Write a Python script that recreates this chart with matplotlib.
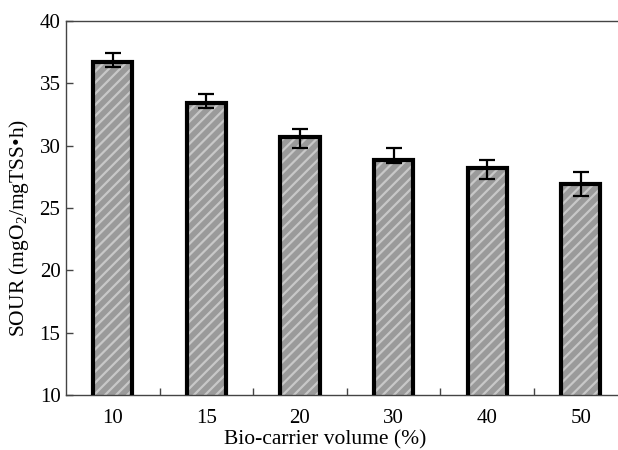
import matplotlib
matplotlib.use("Agg")
import matplotlib.pyplot as plt
import numpy as np

# data
volume = ["10", "15", "20", "30", "40", "50"]
sour = [36.75, 33.45, 30.7, 28.85, 28.2, 26.9]
err_low = [36.35, 33.0, 29.85, 28.6, 27.3, 26.0]
err_high = [37.45, 34.15, 31.3, 29.85, 28.85, 27.85]

plt.rcParams['font.family'] = ['Liberation Serif', 'DejaVu Serif']
plt.rcParams['mathtext.fontset'] = 'custom'
plt.rcParams['mathtext.rm'] = 'Liberation Serif'
plt.rcParams['mathtext.default'] = 'regular'
plt.rcParams['hatch.linewidth'] = 1.6

fig = plt.figure(figsize=(6.18, 4.5), dpi=100)
ax = fig.add_axes([66/618, 55/450, 561.6/618, 374/450])

x = np.arange(len(volume))
lo = np.array(sour) - np.array(err_low)
hi = np.array(err_high) - np.array(sour)

# hatched fill first, then black outline on top
ax.bar(x, sour, width=0.42, bottom=0, color='#9a9a9a', edgecolor='#c8c8c8',
       hatch='///', linewidth=0, zorder=2)
ax.bar(x, sour, width=0.42, bottom=0, fill=False, edgecolor='black',
       linewidth=3.0, zorder=3)
ax.errorbar(x, sour, yerr=[lo, hi], fmt='none', ecolor='black',
            elinewidth=1.6, capsize=5.5, capthick=1.6, zorder=4)

ax.set_xlim(-0.5, 5.5)
ax.set_ylim(10, 40)
ax.set_yticks(np.arange(10, 41, 5))
ax.set_xticks(x)
ax.set_xticklabels(volume)
ax.set_xticks(np.arange(0.5, 5.5, 1), minor=True)
ax.tick_params(axis='x', which='major', length=0, pad=10, labelsize=15)
ax.tick_params(axis='x', which='minor', direction='in', length=5, width=1, color='#444444')
ax.tick_params(axis='y', direction='in', length=5, width=1, color='#444444',
               labelsize=15, pad=4)

for s in ['left', 'top', 'bottom']:
    ax.spines[s].set_color('#444444')
    ax.spines[s].set_linewidth(1.0)
ax.spines['right'].set_visible(False)

ax.set_xlabel("Bio-carrier volume (%)", fontsize=15.5, va='center')
ax.xaxis.set_label_coords(0.461, -0.121)
ax.set_ylabel("SOUR (mgO$_2$/mgTSS•h)", fontsize=15.5, va='center')
ax.yaxis.set_label_coords(-0.083, 0.447)

fig.savefig("out.png", dpi=100)
